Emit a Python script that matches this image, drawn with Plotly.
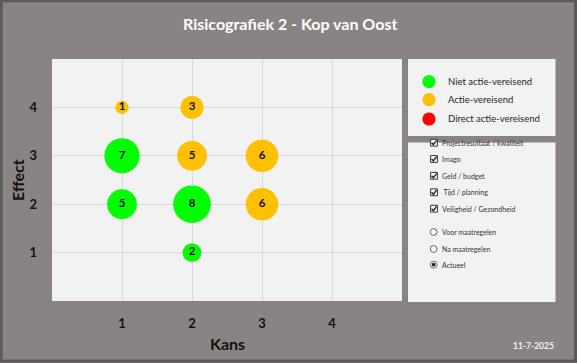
import plotly.graph_objects as go

# ---- data ----
kans_groen = [1, 1, 2, 2]
effect_groen = [3, 2, 2, 1]
aantal_groen = [7, 5, 8, 2]

kans_oranje = [1, 2, 2, 3, 3]
effect_oranje = [4, 4, 3, 3, 2]
aantal_oranje = [1, 3, 5, 6, 6]

kans_rood = []
effect_rood = []
aantal_rood = []

tick_vals = [1, 2, 3, 4]
tick_text = ["1", "2", "3", "4"]

legend_labels = ["Niet actie-vereisend", "Actie-vereisend", "Direct actie-vereisend"]
legend_colors = ["#00FF00", "#FFC000", "#FF0000"]
check_labels = ["Projectresultaat / kwaliteit", "Imago", "Geld / budget", " Tijd / planning", "Veiligheid / Gezondheid"]
radio_labels = ["Voor maatregelen", "Na maatregelen", "Actueel"]
radio_selected = "Actueel"

title_text = "Risicografiek 2 - Kop van Oost"
date_text = "11-7-2025"

# ---- layout geometry (pixels) ----
W, H = 577, 363
L, R, T, B = 52, 402, 59, 301
PW, PH = R - L, B - T
BG = "#898483"
BORDER = "#5c5958"
BOX = "#F2F2F2"
FONT = "Lato"


def px(x):
    return (x - L) / PW


def py(y):
    return (B - y) / PH


SIZEREF = 0.0113

fig = go.Figure()
for xs, ys, vs, col, name in [
    (kans_groen, effect_groen, aantal_groen, legend_colors[0], legend_labels[0]),
    (kans_oranje, effect_oranje, aantal_oranje, legend_colors[1], legend_labels[1]),
    (kans_rood, effect_rood, aantal_rood, legend_colors[2], legend_labels[2]),
]:
    fig.add_trace(go.Scatter(
        x=xs, y=ys, mode="markers+text", name=name,
        text=[str(v) for v in vs], textposition="middle center",
        textfont=dict(family=FONT, size=11.5, color="#111111", weight="bold"),
        marker=dict(size=vs, sizemode="area", sizeref=SIZEREF, color=col,
                    line=dict(width=0), opacity=1),
        showlegend=False, cliponaxis=False,
    ))

shapes = []
annotations = []

# outer frame
shapes.append(dict(type="rect", xref="paper", yref="paper",
                   x0=px(1.2), x1=px(575.5), y0=py(0.8), y1=py(361),
                   line=dict(color=BORDER, width=3), fillcolor="rgba(0,0,0,0)", layer="above"))

# legend boxes
shapes.append(dict(type="rect", xref="paper", yref="paper",
                   x0=px(408), x1=px(555.5), y0=py(59), y1=py(136),
                   line=dict(width=0), fillcolor=BOX, layer="above"))
shapes.append(dict(type="rect", xref="paper", yref="paper",
                   x0=px(408), x1=px(555.5), y0=py(142.5), y1=py(302),
                   line=dict(width=0), fillcolor=BOX, layer="above"))

# colour legend
for i, (lab, col) in enumerate(zip(legend_labels, legend_colors)):
    cy = [81.7, 99.7, 119][i]
    r = 6.6
    shapes.append(dict(type="circle", xref="paper", yref="paper",
                       x0=px(429 - r), x1=px(429 + r), y0=py(cy + r), y1=py(cy - r),
                       line=dict(width=0), fillcolor=col, layer="above"))
    annotations.append(dict(x=px(446), y=py(cy), xref="paper", yref="paper",
                            text=lab, showarrow=False, xanchor="left", yanchor="middle",
                            font=dict(family=FONT, size=9.5, color="#262626")))

# checkboxes
for i, lab in enumerate(check_labels):
    cy = [142.7, 159, 175.8, 192.3, 208.7][i]
    s = 3.4
    shapes.append(dict(type="rect", xref="paper", yref="paper",
                       x0=px(434 - s), x1=px(434 + s), y0=py(cy + s), y1=py(cy - s),
                       line=dict(color="#333333", width=1), fillcolor="#FFFFFF", layer="above"))
    path = "M {} {} L {} {} L {} {}".format(px(431.6), py(cy), px(433.4), py(cy + 2), px(436.6), py(cy - 2.4))
    shapes.append(dict(type="path", xref="paper", yref="paper", path=path,
                       line=dict(color="#222222", width=1.4), layer="above"))
    annotations.append(dict(x=px(440), y=py(cy), xref="paper", yref="paper",
                            text=lab, showarrow=False, xanchor="left", yanchor="middle",
                            font=dict(family=FONT, size=7, color="#333333")))

# radio buttons
for i, lab in enumerate(radio_labels):
    cy = [232, 249, 264.7][i]
    r = 3.4
    shapes.append(dict(type="circle", xref="paper", yref="paper",
                       x0=px(433.7 - r), x1=px(433.7 + r), y0=py(cy + r), y1=py(cy - r),
                       line=dict(color="#444444", width=0.8), fillcolor="#FFFFFF", layer="above"))
    if lab == radio_selected:
        r2 = 1.9
        shapes.append(dict(type="circle", xref="paper", yref="paper",
                           x0=px(433.7 - r2), x1=px(433.7 + r2), y0=py(cy + r2), y1=py(cy - r2),
                           line=dict(width=0), fillcolor="#222222", layer="above"))
    annotations.append(dict(x=px(440), y=py(cy), xref="paper", yref="paper",
                            text=lab, showarrow=False, xanchor="left", yanchor="middle",
                            font=dict(family=FONT, size=7, color="#333333")))

# title, axis titles, date
annotations.append(dict(x=px(290), y=py(23), xref="paper", yref="paper", text=title_text,
                        showarrow=False, xanchor="center", yanchor="middle",
                        font=dict(family=FONT, size=16, color="#FFFFFF", weight="bold")))
annotations.append(dict(x=px(17), y=py(180), xref="paper", yref="paper", text="Effect",
                        showarrow=False, xanchor="center", yanchor="middle", textangle=-90,
                        font=dict(family=FONT, size=16, color="#111111", weight="bold")))
annotations.append(dict(x=px(227), y=py(343), xref="paper", yref="paper", text="Kans",
                        showarrow=False, xanchor="center", yanchor="middle",
                        font=dict(family=FONT, size=16, color="#111111", weight="bold")))
annotations.append(dict(x=px(556), y=py(345.7), xref="paper", yref="paper", text=date_text,
                        showarrow=False, xanchor="right", yanchor="middle",
                        font=dict(family=FONT, size=8.5, color="#F2F2F2", weight="bold")))

fig.update_layout(
    width=W, height=H,
    margin=dict(l=L, r=W - R, t=T, b=H - B, pad=0),
    paper_bgcolor=BG, plot_bgcolor=BOX,
    shapes=shapes, annotations=annotations,
    showlegend=False,
    xaxis=dict(range=[0, 5], tickvals=tick_vals, ticktext=tick_text, showgrid=True,
               gridcolor="#D9D9D9", gridwidth=1, zeroline=False, showline=False,
               ticks="", ticklabelstandoff=13,
               tickfont=dict(family=FONT, size=13, color="#111111", weight="bold"),
               fixedrange=True),
    yaxis=dict(range=[0, 5], tickvals=tick_vals, ticktext=tick_text, showgrid=True,
               gridcolor="#D9D9D9", gridwidth=1, zeroline=False, showline=False,
               ticks="", ticklabelstandoff=14,
               tickfont=dict(family=FONT, size=13, color="#111111", weight="bold"),
               fixedrange=True),
)

fig.write_html(
    "out.html",
    config=dict(displayModeBar=False),
    post_script="document.body.style.margin='0';document.body.style.overflow='hidden';",
)
